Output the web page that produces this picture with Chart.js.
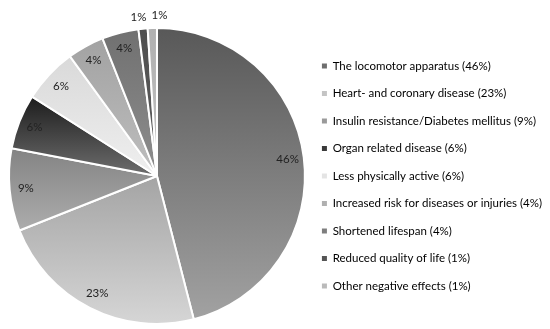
<!DOCTYPE html>
<html lang="en">
<head>
  <meta charset="UTF-8">
  <title>Negative effects pie</title>
  <script src="https://cdn.jsdelivr.net/npm/chart.js"></script>
  <style>
    html, body { margin: 0; padding: 0; background: #fff; }
    #wrap { width: 550px; height: 329px; position: relative; }
  </style>
</head>
<body>
  <div id="wrap"><canvas id="pieChart"></canvas></div>

  <script>
    const labels = [
      'The locomotor apparatus (46%)',
      'Heart- and coronary disease (23%)',
      'Insulin resistance/Diabetes mellitus (9%)',
      'Organ related disease (6%)',
      'Less physically active (6%)',
      'Increased risk for diseases or injuries (4%)',
      'Shortened lifespan (4%)',
      'Reduced quality of life (1%)',
      'Other negative effects (1%)'
    ];
    const values = [46, 23, 9, 6, 6, 4, 4, 1, 1];
    const topColors = ['#585858', '#a4a4a4', '#838383', '#1c1c1c', '#d9d9d9', '#a2a2a2', '#707070', '#4e4e4e', '#b0b0b0'];
    const bottomColors = ['#a2a2a2', '#d6d6d6', '#adadad', '#6e6e6e', '#efefef', '#bebebe', '#8e8e8e', '#606060', '#c2c2c2'];
    const legendColors = ['#6e6e6e', '#c4c4c4', '#9a9a9a', '#3a3a3a', '#e4e4e4', '#b0b0b0', '#7e7e7e', '#555555', '#bababa'];

    const FONT = 'Lato, "Liberation Sans", sans-serif';
    const total = values.reduce((a, b) => a + b, 0);

    // vertical gradient over each slice's own bounding box
    function sliceFill(ctx) {
      const i = ctx.dataIndex;
      const chart = ctx.chart;
      const area = chart.chartArea;
      if (!area) return legendColors[i];
      const cx = (area.left + area.right) / 2;
      const cy = (area.top + area.bottom) / 2;
      const r = Math.min(area.right - area.left, area.bottom - area.top) / 2;
      let before = 0;
      for (let k = 0; k < i; k++) before += values[k];
      const a0 = -Math.PI / 2 + before / total * Math.PI * 2;
      const a1 = a0 + values[i] / total * Math.PI * 2;
      const ys = [cy, cy + r * Math.sin(a0), cy + r * Math.sin(a1)];
      const within = a => {
        for (let t = a - Math.PI * 2; t < a1 + 1e-9; t += Math.PI * 2) if (t >= a0) return true;
        return false;
      };
      if (within(-Math.PI / 2)) ys.push(cy - r);
      if (within(Math.PI / 2)) ys.push(cy + r);
      const y0 = Math.min(...ys), y1 = Math.max(...ys);
      const g = chart.ctx.createLinearGradient(0, y0, 0, y1 + 0.01);
      g.addColorStop(0, topColors[i]);
      g.addColorStop(1, bottomColors[i]);
      return g;
    }

    const sliceLabels = {
      id: 'sliceLabels',
      afterDatasetsDraw(chart) {
        const ctx = chart.ctx;
        const meta = chart.getDatasetMeta(0);
        const items = [];
        meta.data.forEach((arc, i) => {
          const p = arc.getProps(['x', 'y', 'startAngle', 'endAngle', 'outerRadius'], true);
          const mid = (p.startAngle + p.endAngle) / 2;
          const outside = values[i] < 2;
          const rr = outside ? p.outerRadius + 12 : p.outerRadius * 0.89;
          items.push({ x: p.x + rr * Math.cos(mid), y: p.y + rr * Math.sin(mid), outside, text: values[i] + '%' });
        });
        // spread outside labels so they don't overlap
        const outs = items.filter(o => o.outside).sort((a, b) => a.x - b.x);
        for (let k = 1; k < outs.length; k++) {
          const gap = outs[k].x - outs[k - 1].x;
          if (gap < 21) {
            const d = (21 - gap) / 2;
            outs[k - 1].x -= d - 2;
            outs[k].x += d + 2;
            outs[k - 1].y += 1;
            outs[k].y -= 1;
          }
        }
        ctx.save();
        ctx.font = '11.5px ' + FONT;
        ctx.fillStyle = '#222222';
        ctx.textAlign = 'center';
        ctx.textBaseline = 'middle';
        items.forEach(o => ctx.fillText(o.text, o.x, o.y));
        ctx.restore();
      }
    };

    new Chart(document.getElementById('pieChart'), {
      type: 'pie',
      data: {
        labels: labels,
        datasets: [{
          data: values,
          backgroundColor: sliceFill,
          borderColor: '#ffffff',
          borderWidth: 2
        }]
      },
      options: {
        responsive: true,
        maintainAspectRatio: false,
        animation: false,
        layout: { padding: { left: 8, top: 26, bottom: 3, right: -2 } },
        plugins: {
          tooltip: { enabled: false },
          legend: {
            position: 'right',
            align: 'center',
            labels: {
              font: { family: FONT, size: 11.5 },
              color: '#333333',
              boxWidth: 5,
              boxHeight: 5,
              padding: 16,
              generateLabels(chart) {
                return chart.data.labels.map((t, i) => ({
                  text: t,
                  fillStyle: legendColors[i],
                  strokeStyle: legendColors[i],
                  lineWidth: 0,
                  index: i,
                  hidden: false
                }));
              }
            }
          }
        }
      },
      plugins: [sliceLabels]
    });
  </script>
</body>
</html>
